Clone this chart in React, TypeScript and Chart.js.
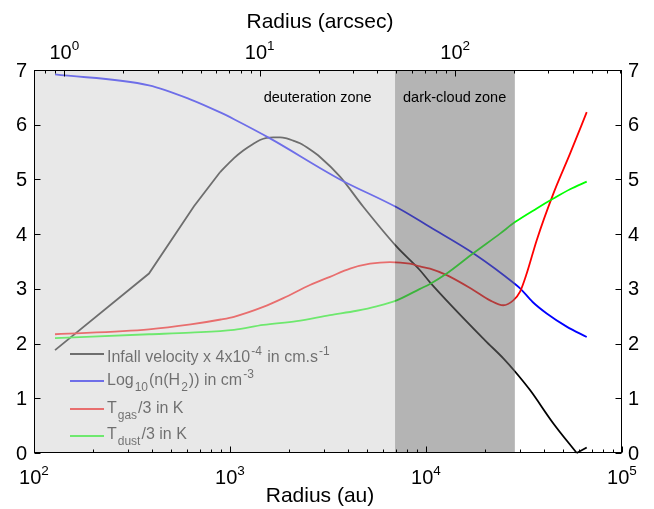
import React, { useEffect, useRef } from 'react';
import { Chart, registerables } from 'chart.js';

Chart.register(...registerables);

// ---- data (radius in au) ----
const DIST_PC = 140; // arcsec = au / distance
const deutZoneEnd = 6950;
const darkZoneEnd = 28400;
const deutLabelR = 2800;
const darkLabelR = 14000;

const infallR = [128, 386, 655, 889, 1048, 1169, 1300, 1422, 1540, 1663, 1800, 1946, 2100, 2276, 2550, 2878, 3642, 4786, 7084, 9316, 10480, 20000, 24800, 28450, 33940, 44650, 58740, 66070];
const infallV = [1.88, 3.28, 4.51, 5.13, 5.39, 5.53, 5.64, 5.72, 5.76, 5.77, 5.77, 5.75, 5.71, 5.66, 5.55, 5.41, 5.05, 4.5, 3.77, 3.34, 3.12, 2.06, 1.73, 1.49, 1.15, 0.54, 0.0, 0.1];
const infallStraightCount = 4; // coarse inner grid drawn with straight segments
const infallTailCount = 2; // last segment (after the zero crossing) straight

const densR = [128, 386, 631, 897, 1048, 1600, 3642, 7084, 10480, 17800, 28450, 30200, 35000, 41300, 52200, 66070];
const densV = [6.92, 6.72, 6.46, 6.22, 6.1, 5.75, 5.0, 4.49, 4.13, 3.63, 3.09, 3.01, 2.76, 2.55, 2.31, 2.12];

const tgasR = [128, 386, 630, 897, 1048, 1479, 1871, 2559, 3236, 4096, 5180, 6550, 8280, 9316, 10480, 12760, 17420, 21220, 24800, 27880, 30200, 32640, 36720, 44650, 54310, 66070];
const tgasV = [2.17, 2.26, 2.35, 2.44, 2.49, 2.67, 2.83, 3.07, 3.22, 3.37, 3.46, 3.49, 3.46, 3.41, 3.37, 3.25, 2.98, 2.79, 2.7, 2.79, 2.95, 3.28, 3.89, 4.74, 5.47, 6.23];

const tdustR = [128, 386, 630, 1048, 1479, 2188, 3236, 4430, 5600, 7084, 9316, 10480, 12760, 17420, 23870, 28450, 36720, 44650, 54310, 66070];
const tdustV = [2.1, 2.17, 2.2, 2.25, 2.34, 2.41, 2.52, 2.6, 2.68, 2.79, 3.0, 3.09, 3.28, 3.65, 4.01, 4.22, 4.47, 4.65, 4.82, 4.96];

const auTicks = [2, 3, 4, 5];
const arcsecTicks = [0, 1, 2];
const yTicks = [0, 1, 2, 3, 4, 5, 6, 7];

const FONT = '"Liberation Sans", Arial, Helvetica, sans-serif';

type Part = [string, number]; // 0 normal, 1 sup, -1 sub

const legendItems: { color: string; parts: Part[] }[] = [
  { color: '#000000', parts: [['Infall velocity x 4x10', 0], ['-4', 1], [' in cm.s', 0], ['-1', 1]] },
  { color: '#0000ff', parts: [['Log', 0], ['10', -1], ['(n(H', 0], ['2', -1], [')) in cm', 0], ['-3', 1]] },
  { color: '#ff0000', parts: [['T', 0], ['gas', -1], ['/3 in K', 0]] },
  { color: '#00ff00', parts: [['T', 0], ['dust', -1], ['/3 in K', 0]] },
];

function toPts(xs: number[], ys: number[]) {
  return xs.map((x, i) => ({ x, y: ys[i] }));
}

function richWidth(ctx: CanvasRenderingContext2D, parts: Part[], size: number, small: number, pad: number) {
  let w = 0;
  for (const [t, m] of parts) {
    ctx.font = `${m === 0 ? size : small}px ${FONT}`;
    w += ctx.measureText(t).width + (m === 0 ? 0 : pad);
  }
  return w;
}

function drawRich(ctx: CanvasRenderingContext2D, parts: Part[], x: number, y: number, size: number, small: number, supOff: number, subOff: number, pad: number) {
  let cx = x;
  for (const [t, m] of parts) {
    ctx.font = `${m === 0 ? size : small}px ${FONT}`;
    const dy = m === 1 ? -supOff : m === -1 ? subOff : 0;
    if (m !== 0) cx += pad / 2;
    ctx.fillText(t, cx, y + dy);
    cx += ctx.measureText(t).width;
    if (m !== 0) cx += pad / 2;
  }
}

const customPlugin = {
  id: 'customDecor',
  afterDatasetsDraw(chart: any) {
    const ctx: CanvasRenderingContext2D = chart.ctx;
    const { left, right, top, bottom } = chart.chartArea;
    const xs = chart.scales.x;
    const xt = chart.scales.xTop;
    const ys = chart.scales.y;
    ctx.save();

    // legend (under the shading)
    const lineYs = [354, 381, 409, 436];
    const baseYs = [362, 385, 413, 439];
    ctx.textAlign = 'left';
    ctx.textBaseline = 'alphabetic';
    legendItems.forEach((it, i) => {
      ctx.strokeStyle = it.color;
      ctx.lineWidth = 1.8;
      ctx.beginPath();
      ctx.moveTo(70, lineYs[i]);
      ctx.lineTo(104, lineYs[i]);
      ctx.stroke();
      ctx.fillStyle = '#000';
      drawRich(ctx, it.parts, 107, baseYs[i], 16, 12, 7, 6, 2);
    });

    // zone shading
    const xd = xs.getPixelForValue(deutZoneEnd);
    const xk = xs.getPixelForValue(darkZoneEnd);
    ctx.fillStyle = 'rgba(211,211,211,0.522)';
    ctx.fillRect(left, top, xd - left, bottom - top);
    ctx.fillStyle = 'rgba(113,113,113,0.53)';
    ctx.fillRect(xd, top, xk - xd, bottom - top);

    // zone labels
    ctx.fillStyle = '#000';
    ctx.font = `14.5px ${FONT}`;
    ctx.textAlign = 'center';
    ctx.fillText('deuteration zone', xs.getPixelForValue(deutLabelR), 102);
    ctx.fillText('dark-cloud zone', xs.getPixelForValue(darkLabelR), 102);

    // box
    ctx.strokeStyle = '#000';
    ctx.lineWidth = 1;
    const L = Math.round(left) + 0.5;
    const R = Math.round(right) - 0.5;
    const T = Math.round(top) + 0.5;
    const B = Math.round(bottom) - 0.5;
    ctx.strokeRect(L, T, R - L, B - T);

    // ticks
    ctx.beginPath();
    for (let e = 2; e <= 5; e++) {
      for (let m = 1; m <= 9; m++) {
        const v = m * Math.pow(10, e);
        if (v > 1e5) break;
        const px = Math.round(xs.getPixelForValue(v)) + 0.5;
        const len = m === 1 ? 6 : 3;
        ctx.moveTo(px, B);
        ctx.lineTo(px, B - len);
      }
    }
    const tmin = 100 / DIST_PC, tmax = 1e5 / DIST_PC;
    for (let e = -1; e <= 2; e++) {
      for (let m = 1; m <= 9; m++) {
        const v = m * Math.pow(10, e);
        if (v < tmin || v > tmax) continue;
        const px = Math.round(xt.getPixelForValue(v)) + 0.5;
        const len = m === 1 ? 6 : 3;
        ctx.moveTo(px, T);
        ctx.lineTo(px, T + len);
      }
    }
    yTicks.forEach((v) => {
      const py = Math.round(ys.getPixelForValue(v)) + 0.5;
      ctx.moveTo(L, py);
      ctx.lineTo(L + 6, py);
      ctx.moveTo(R, py);
      ctx.lineTo(R - 6, py);
    });
    ctx.stroke();

    // tick labels
    ctx.fillStyle = '#000';
    ctx.textAlign = 'left';
    ctx.textBaseline = 'alphabetic';
    auTicks.forEach((e) => {
      const parts: Part[] = [['10', 0], [String(e), 1]];
      const w = richWidth(ctx, parts, 20, 13.5, 0);
      const px = xs.getPixelForValue(Math.pow(10, e));
      drawRich(ctx, parts, px - w / 2, 484, 20, 13.5, 9, 0, 0);
    });
    arcsecTicks.forEach((e) => {
      const parts: Part[] = [['10', 0], [String(e), 1]];
      const w = richWidth(ctx, parts, 20, 13.5, 0);
      const px = xt.getPixelForValue(Math.pow(10, e));
      drawRich(ctx, parts, px - w / 2, 59, 20, 13.5, 9, 0, 0);
    });
    ctx.font = `20px ${FONT}`;
    ctx.textBaseline = 'middle';
    yTicks.forEach((v) => {
      const py = ys.getPixelForValue(v) + 1;
      ctx.textAlign = 'right';
      ctx.fillText(String(v), left - 7, py);
      ctx.textAlign = 'left';
      ctx.fillText(String(v), right + 6, py);
    });

    // axis titles
    ctx.font = `21px ${FONT}`;
    ctx.textAlign = 'center';
    ctx.textBaseline = 'alphabetic';
    const cx = (left + right) / 2;
    ctx.fillText('Radius (arcsec)', cx - 8, 28);
    ctx.fillText('Radius (au)', cx - 8, 502);

    ctx.restore();
  },
};

export default function App() {
  const ref = useRef<HTMLCanvasElement | null>(null);
  useEffect(() => {
    if (!ref.current) return;
    const common = { pointRadius: 0, borderWidth: 1.8, fill: false, clip: false as any };
    const smooth = { cubicInterpolationMode: 'monotone' };
    const k = infallStraightCount;
    const n = infallR.length;
    const t = n - infallTailCount;
    const chart = new Chart(ref.current, {
      type: 'line',
      data: {
        datasets: [
          { label: 'Infall (inner)', data: toPts(infallR.slice(0, k), infallV.slice(0, k)), borderColor: '#000000', order: 6, tension: 0, ...common },
          { label: 'Infall', data: toPts(infallR.slice(k - 1, t + 1), infallV.slice(k - 1, t + 1)), borderColor: '#000000', order: 5, ...smooth, ...common },
          { label: 'Infall (tail)', data: toPts(infallR.slice(t), infallV.slice(t)), borderColor: '#000000', order: 4, tension: 0, ...common },
          { label: 'Density', data: toPts(densR, densV), borderColor: '#0000ff', order: 3, ...smooth, ...common },
          { label: 'Tgas', data: toPts(tgasR, tgasV), borderColor: '#ff0000', order: 2, ...smooth, ...common },
          { label: 'Tdust', data: toPts(tdustR, tdustV), borderColor: '#00ff00', order: 1, ...smooth, ...common },
        ] as any,
      },
      options: {
        animation: false,
        responsive: false,
        events: [],
        layout: { padding: { left: 34, right: 32, top: 70, bottom: 56 } },
        plugins: { legend: { display: false }, tooltip: { enabled: false } },
        scales: {
          x: { type: 'logarithmic', min: 100, max: 1e5, display: false },
          xTop: { type: 'logarithmic', position: 'top', min: 100 / DIST_PC, max: 1e5 / DIST_PC, display: false },
          y: { type: 'linear', min: 0, max: 7, display: false },
        },
      } as any,
      plugins: [customPlugin as any],
    });
    return () => chart.destroy();
  }, []);
  return (
    <div style={{ position: 'absolute', left: 0, top: 0, width: 654, height: 509, background: '#fff' }}>
      <canvas ref={ref} width={654} height={509} style={{ display: 'block' }} />
    </div>
  );
}
